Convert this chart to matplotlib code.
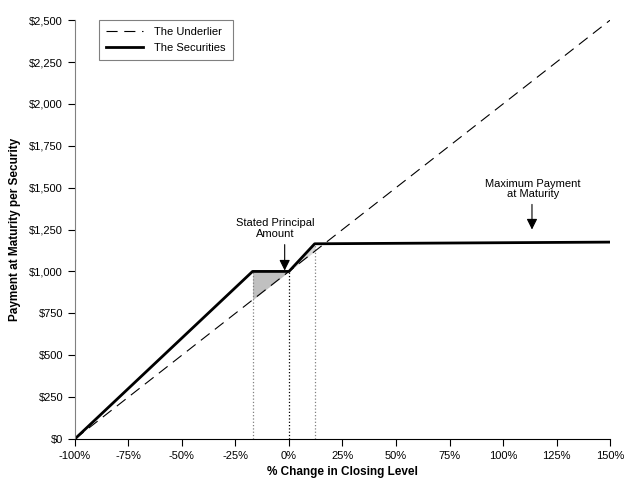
import matplotlib.pyplot as plt
import numpy as np

plt.rcParams['font.family'] = ['Liberation Sans', 'DejaVu Sans']

# datos
pct_under = [-100, 150]
pay_under = [0, 2500]

pct_sec = [-100, -17, 0, 12, 150]
pay_sec = [0, 1000, 1000, 1165, 1175]

# zonas sombreadas
buf_x = [-17, 0]
buf_top = [1000, 1000]
buf_bot = [830, 1000]
up_x = [0, 12]
up_top = [1000, 1165]
up_bot = [1000, 1120]

vlines_x = [-17, 0, 12]
vlines_top = [1000, 1000, 1165]
vlines_col = ["gray", "black", "gray"]

xticks = [-100, -75, -50, -25, 0, 25, 50, 75, 100, 125, 150]
yticks = [0, 250, 500, 750, 1000, 1250, 1500, 1750, 2000, 2250, 2500]

fig = plt.figure(figsize=(6.29, 4.91), dpi=100)
ax = fig.add_axes([0.119, 0.106, 0.851, 0.853])

ax.fill_between(buf_x, buf_bot, buf_top, color="#c0c0c0", lw=0)
ax.fill_between(up_x, up_bot, up_top, color="#d8d8d8", lw=0)

for x, top, c in zip(vlines_x, vlines_top, vlines_col):
    ax.plot([x, x], [0, top], color=c, linestyle=":", lw=0.9)

ax.plot(pct_under, pay_under, color="black", lw=0.8, dashes=(10, 6), label="The Underlier")
ax.plot(pct_sec, pay_sec, color="black", lw=2, label="The Securities")

# anotaciones
ax.annotate("", xy=(-2, 1005), xytext=(-2, 1160),
            arrowprops=dict(arrowstyle="-|>", color="black", lw=0.8, mutation_scale=16,
                            shrinkA=0, shrinkB=0))
ax.text(-6.5, 1195, "Stated Principal\nAmount", ha="center", va="bottom", fontsize=8, linespacing=1.05)
ax.annotate("", xy=(113.5, 1250), xytext=(113.5, 1400),
            arrowprops=dict(arrowstyle="-|>", color="black", lw=0.8, mutation_scale=16,
                            shrinkA=0, shrinkB=0))
ax.text(114, 1430, "Maximum Payment\nat Maturity", ha="center", va="bottom", fontsize=8, linespacing=1.05)

ax.set_xlim(-100, 150)
ax.set_ylim(0, 2500)
ax.set_xticks(xticks)
ax.set_xticklabels([f"{t}%" for t in xticks], fontsize=8)
ax.set_yticks(yticks)
ax.set_yticklabels([f"${t:,}" for t in yticks], fontsize=8)
ax.tick_params(direction="out", length=5, width=0.8, colors="black")
ax.spines["top"].set_visible(False)
ax.spines["right"].set_visible(False)
ax.spines["left"].set_color("gray")
ax.spines["bottom"].set_color("black")

ax.set_xlabel("% Change in Closing Level", fontsize=8.5, fontweight="bold", labelpad=4)
ax.set_ylabel("Payment at Maturity per Security", fontsize=8.5, fontweight="bold", labelpad=6)

leg = ax.legend(loc="upper left", bbox_to_anchor=(0.045, 1.0), borderaxespad=0, fontsize=8,
                fancybox=False, edgecolor="gray", framealpha=1, handlelength=3.4,
                handletextpad=1.0, borderpad=0.6, labelspacing=0.55)
leg.get_frame().set_linewidth(0.8)

plt.savefig("out.png", dpi=100)
